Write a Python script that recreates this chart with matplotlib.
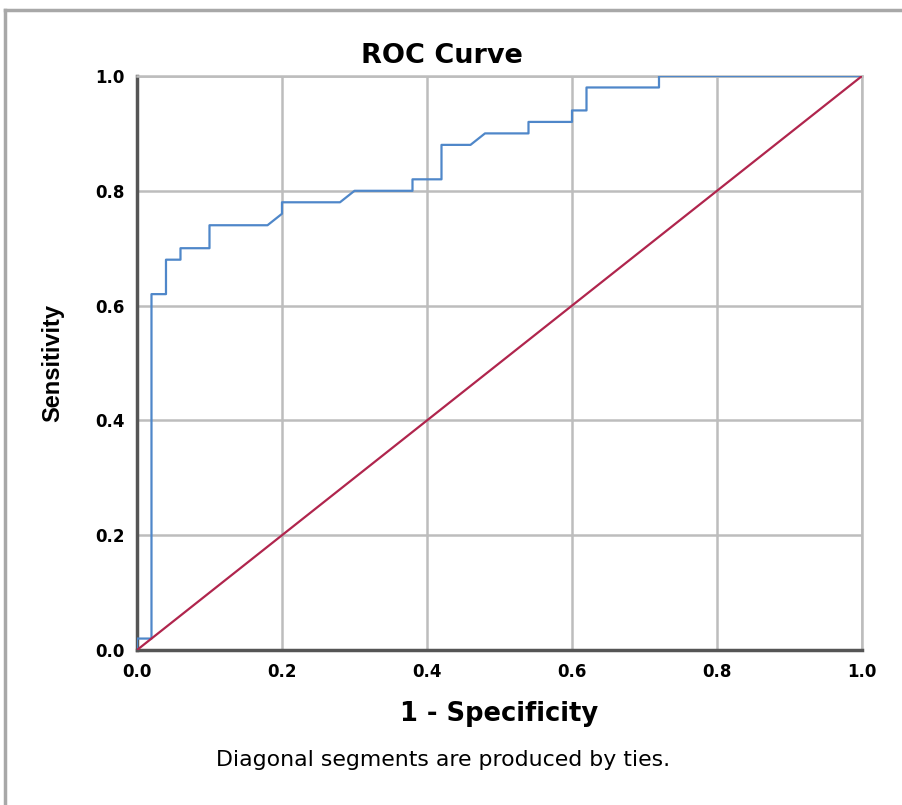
import numpy as np
import matplotlib
matplotlib.use("Agg")
import matplotlib.pyplot as plt
from matplotlib.lines import Line2D

plt.rcParams['font.family'] = ['DejaVu Sans']

# ROC points (1 - specificity, sensitivity)
fpr = [0.00, 0.00, 0.02, 0.02, 0.04, 0.04, 0.06, 0.06, 0.10, 0.10, 0.18, 0.20,
       0.20, 0.28, 0.30, 0.38, 0.38, 0.42, 0.42, 0.46, 0.48, 0.54, 0.54, 0.60,
       0.60, 0.62, 0.62, 0.72, 0.72, 1.00]
tpr = [0.00, 0.02, 0.02, 0.62, 0.62, 0.68, 0.68, 0.70, 0.70, 0.74, 0.74, 0.76,
       0.78, 0.78, 0.80, 0.80, 0.82, 0.82, 0.88, 0.88, 0.90, 0.90, 0.92, 0.92,
       0.94, 0.94, 0.98, 0.98, 1.00, 1.00]
ref_line = [0.0, 1.0]
ticks = [0.0, 0.2, 0.4, 0.6, 0.8, 1.0]

fig = plt.figure(figsize=(9.03, 8.05), dpi=100)
ax = fig.add_axes([0.1517, 0.1925, 0.8029, 0.7131])

ax.plot(fpr, tpr, color='#4f87c9', lw=1.6, zorder=3)
ax.plot(ref_line, ref_line, color='#b0254d', lw=1.6, zorder=3)

ax.set_xlim(0, 1)
ax.set_ylim(0, 1)
ax.set_xticks(ticks)
ax.set_yticks(ticks)
ax.set_xticklabels(['%.1f' % t for t in ticks], fontsize=12, fontweight='bold')
ax.set_yticklabels(['%.1f' % t for t in ticks], fontsize=12, fontweight='bold')
ax.tick_params(axis='x', length=0, pad=9)
ax.tick_params(axis='y', length=0, pad=9)
ax.grid(True, color='#bdbdbd', lw=1.8, zorder=1)
ax.set_axisbelow(True)

for s in ['top', 'right']:
    ax.spines[s].set_color('#bdbdbd')
    ax.spines[s].set_linewidth(1.8)
for s in ['left', 'bottom']:
    ax.spines[s].set_color('#555555')
    ax.spines[s].set_linewidth(2.5)

fig.text(0.4895, 0.930, 'ROC Curve', ha='center', va='center',
         fontsize=19.5, fontweight='bold')
ax.set_xlabel('1 - Specificity', fontsize=18.5, fontweight='bold')
ax.xaxis.set_label_coords(0.5, -0.089)
ax.set_ylabel('Sensitivity', fontsize=17, fontweight='bold',
              family=['Liberation Sans', 'DejaVu Sans'])
ax.yaxis.set_label_coords(-0.116, 0.5)
ax.yaxis.label.set_va('center')

fig.text(0.4905, 0.056, 'Diagonal segments are produced by ties.', ha='center',
         va='center', fontsize=15.8)

# gray frame (top and left edges)
fig.add_artist(Line2D([0.005, 1.0], [0.988, 0.988], color='#a8a8a8', lw=2.5,
                      transform=fig.transFigure))
fig.add_artist(Line2D([0.005, 0.005], [0.0, 0.988], color='#a8a8a8', lw=2.5,
                      transform=fig.transFigure))

fig.savefig('out.png', dpi=100)
